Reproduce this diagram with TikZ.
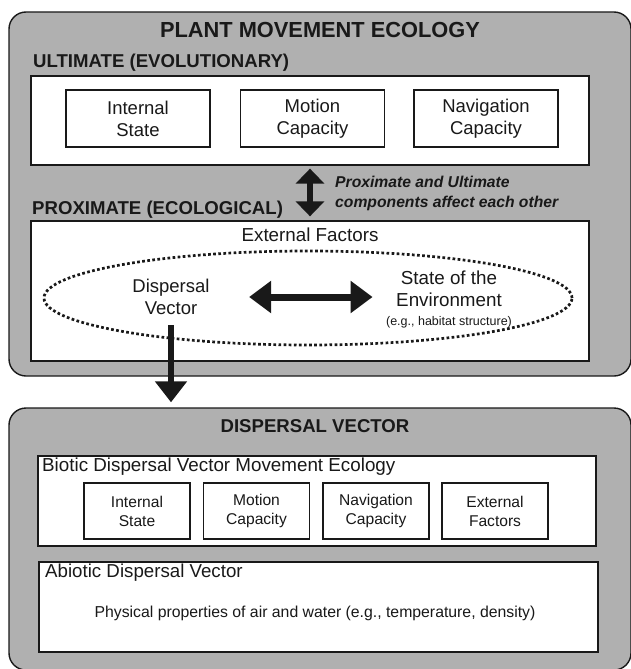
\documentclass[tikz,border=0pt]{standalone}
\usepackage{fontspec}
\setmainfont{Liberation Sans}
\usetikzlibrary{positioning,arrows.meta}
\usepackage{xcolor}
\definecolor{panelgray}{RGB}{176,176,176}
\definecolor{ink}{RGB}{25,25,25}
\newcommand{\fsz}[2]{\fontsize{#1}{#2}\selectfont}

\begin{document}
\begin{tikzpicture}[x=1pt,y=-1pt,text=ink,
  panel/.style={draw=ink,line width=1.4pt,fill=panelgray,rounded corners=17pt,inner sep=0pt},
  whitebox/.style={draw=ink,line width=1.3pt,fill=white,inner sep=0pt},
  bigcell/.style={whitebox,minimum width=144pt,minimum height=57pt,align=center,font=\fsz{18.5}{22}},
  smallcell/.style={whitebox,minimum width=106pt,minimum height=56pt,align=center,font=\fsz{15.6}{19}},
  heading/.style={font=\fsz{18.6}{22}\bfseries,inner sep=0pt},
  blockarrow/.style={draw=ink,line width=6pt}]
\useasboundingbox (0,0) rectangle (630,669);
% upper panel
\node[panel,minimum width=622pt,minimum height=364pt] (plant) at (320,194) {};
\node[font=\fsz{21.8}{26}\bfseries] (title) at (320,30) {PLANT MOVEMENT ECOLOGY};
\node[heading,anchor=west] (ulthead) at (33,63) {ULTIMATE (EVOLUTIONARY)};
\node[whitebox,minimum width=558pt,minimum height=89pt] (ult) at (310,120.5) {};
\node[bigcell] (intst) at (138,118.5) {Internal\\State};
\node[bigcell] (motcap) at (312.5,118.5) {Motion\\Capacity};
\node[bigcell] (navcap) at (486,118.5) {Navigation\\Capacity};
\node[heading,anchor=west] (proxhead) at (32,210) {PROXIMATE (ECOLOGICAL)};
\node[anchor=west,align=left,inner sep=0pt,font=\fsz{15.7}{20}\bfseries\itshape] (note) at (335,193) {Proximate and Ultimate\\components affect each other};
\node[whitebox,minimum width=558pt,minimum height=140pt] (prox) at (310,291) {};
\node[font=\fsz{18.8}{22}] (extf) at (310,235) {External Factors};
\draw[ink,line width=2.7pt,dash pattern=on 2.7pt off 2.4pt] (308,298) ellipse [x radius=264pt,y radius=47pt];
\node[align=center,font=\fsz{18.5}{22}] (dv) at (171,297) {Dispersal\\Vector};
\node[align=center,font=\fsz{18.8}{22.5}] (env) at (449,299) {State of the\\Environment\\[-4pt]{\fsz{12.5}{15}(e.g., habitat structure)}};
\draw[blockarrow,{Triangle[width=28pt,length=15pt]}-{Triangle[width=28pt,length=15pt]},shorten <=3pt,shorten >=4pt] (ult.south) -- (prox.north);
\draw[blockarrow,line width=7pt,{Triangle[width=31pt,length=22pt]}-{Triangle[width=31pt,length=22pt]},shorten <=36pt,shorten >=10pt] (dv.east) -- (dv.east -| env.west);
% lower panel
\node[panel,minimum width=622pt,minimum height=262pt] (vecpanel) at (320,539) {};
\draw[blockarrow,-{Triangle[width=31pt,length=21pt]},shorten <=7pt,shorten >=5pt] (dv.south) -- (dv.south |- vecpanel.north);
\node[heading] (vectitle) at (315,426) {DISPERSAL VECTOR};
\node[whitebox,minimum width=558pt,minimum height=90pt] (biotic) at (317,501) {};
\node[anchor=west,inner sep=0pt,font=\fsz{18.8}{22}] (biohead) at (42,467) {Biotic Dispersal Vector Movement Ecology};
\node[smallcell] (bint) at (137,511) {Internal\\State};
\node[smallcell] (bmot) at (256.5,511) {Motion\\Capacity};
\node[smallcell] (bnav) at (376,511) {Navigation\\Capacity};
\node[smallcell] (bext) at (495,511) {External\\Factors};
\node[whitebox,minimum width=559pt,minimum height=90pt] (abiotic) at (318.5,607) {};
\node[anchor=west,inner sep=0pt,font=\fsz{18.7}{22}] (abiohead) at (45,573) {Abiotic Dispersal Vector};
\node[font=\fsz{15.8}{19}] (phys) at (315,613) {Physical properties of air and water (e.g., temperature, density)};
\end{tikzpicture}
\end{document}
